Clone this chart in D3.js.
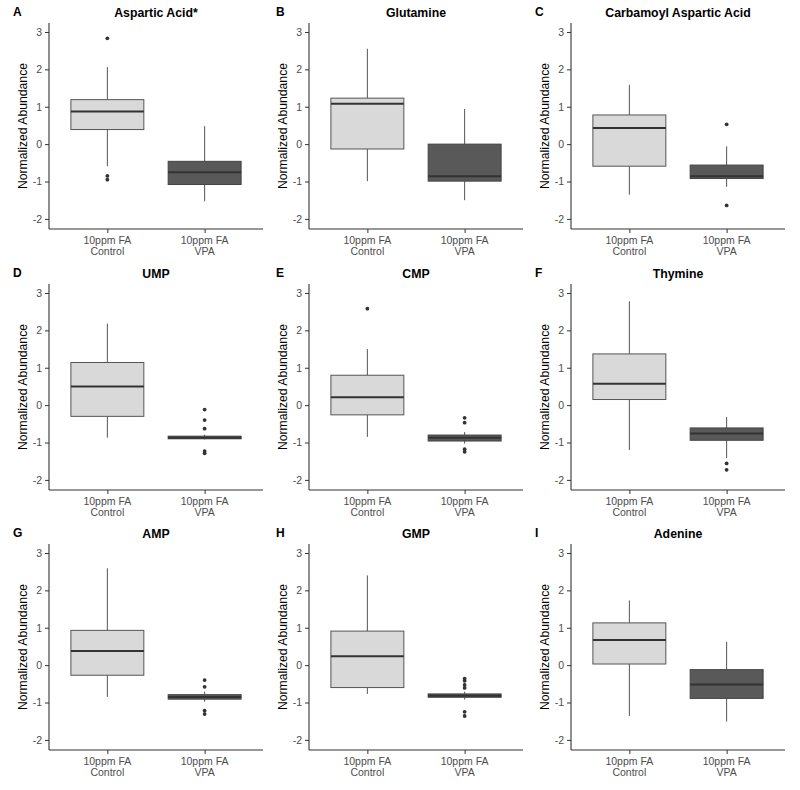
<!DOCTYPE html>
<html>
<head>
<meta charset="utf-8">
<script src="https://cdn.jsdelivr.net/npm/d3@7"></script>
<style>
  body { margin: 0; background: #fff; }
  svg { display: block; font-family: "Liberation Sans", Arial, sans-serif; }
</style>
</head>
<body>
<svg id="chart" width="800" height="790"></svg>
<script>
// ---- Data ----
const panelLetters = ["A", "B", "C", "D", "E", "F", "G", "H", "I"];
const metabolites = ["Aspartic Acid*", "Glutamine", "Carbamoyl Aspartic Acid", "UMP", "CMP", "Thymine", "AMP", "GMP", "Adenine"];
const groups = ["10ppm FA\nControl", "10ppm FA\nVPA"];
const yTicks = [-2, -1, 0, 1, 2, 3];

// [lower whisker, Q1, median, Q3, upper whisker]
const controlStats = [
  [-0.59, 0.39, 0.87, 1.19, 2.06],
  [-0.99, -0.13, 1.08, 1.23, 2.55],
  [-1.35, -0.59, 0.43, 0.78, 1.59],
  [-0.87, -0.30, 0.50, 1.14, 2.18],
  [-0.85, -0.26, 0.21, 0.80, 1.50],
  [-1.20, 0.15, 0.57, 1.37, 2.78],
  [-0.85, -0.27, 0.38, 0.93, 2.59],
  [-0.77, -0.60, 0.24, 0.91, 2.40],
  [-1.36, 0.03, 0.67, 1.13, 1.73]
];
const vpaStats = [
  [-1.53, -1.08, -0.75, -0.46, 0.48],
  [-1.50, -0.99, -0.86, 0.00, 0.94],
  [-1.14, -0.92, -0.86, -0.56, -0.06],
  [-0.92, -0.90, -0.87, -0.83, -0.79],
  [-1.03, -0.96, -0.87, -0.80, -0.72],
  [-1.42, -0.94, -0.76, -0.61, -0.32],
  [-0.98, -0.91, -0.85, -0.79, -0.71],
  [-0.92, -0.86, -0.82, -0.77, -0.71],
  [-1.51, -0.89, -0.52, -0.12, 0.62]
];
const controlOutliers = [
  [2.83, -0.85, -0.95],
  [],
  [],
  [],
  [2.58],
  [],
  [],
  [],
  []
];
const vpaOutliers = [
  [],
  [],
  [0.53, -1.64],
  [-0.12, -0.40, -0.63, -1.23, -1.29],
  [-0.34, -0.47, -1.18, -1.25],
  [-1.56, -1.73],
  [-0.40, -0.58, -1.22, -1.31],
  [-0.36, -0.42, -0.53, -0.61, -1.25, -1.36],
  []
];

// ---- Layout ----
const colAxisX = [49, 309, 571];
const colRightX = [263, 523, 785];
const colLetterX = [13, 276, 535];
const rowTop = [23, 284, 544];
const rowBottom = [229, 490, 750];
const fills = ["#d9d9d9", "#595959"];
const strokes = ["#555555", "#444444"];

const svg = d3.select("#chart");
svg.append("rect").attr("width", 800).attr("height", 790).attr("fill", "#fff");

metabolites.forEach((name, i) => {
  const c = i % 3, r = Math.floor(i / 3);
  const x0 = colAxisX[c], x1 = colRightX[c];
  const yT = rowTop[r], yB = rowBottom[r];

  const x = d3.scaleLinear().domain([0.4, 2.6]).range([x0, x1]);
  const y = d3.scaleLinear().domain([-2.27, 3.24]).range([yB, yT]);
  const g = svg.append("g");

  // Title and letter
  g.append("text").attr("x", (x0 + x1) / 2).attr("y", yT - 6)
    .attr("text-anchor", "middle").attr("font-size", 12.3).attr("font-weight", "bold")
    .attr("fill", "#000").text(name);
  g.append("text").attr("x", colLetterX[c]).attr("y", yT - 7)
    .attr("font-size", 12).attr("font-weight", "bold").attr("fill", "#000").text(panelLetters[i]);

  // Boxes
  const statsList = [controlStats[i], vpaStats[i]];
  const outList = [controlOutliers[i], vpaOutliers[i]];
  statsList.forEach((s, k) => {
    const cx = x(k + 1);
    const halfW = (x(1.375) - x(1));
    // whiskers
    g.append("line").attr("x1", cx).attr("x2", cx).attr("y1", y(s[3])).attr("y2", y(s[4]))
      .attr("stroke", "#555").attr("stroke-width", 1);
    g.append("line").attr("x1", cx).attr("x2", cx).attr("y1", y(s[0])).attr("y2", y(s[1]))
      .attr("stroke", "#555").attr("stroke-width", 1);
    // box
    g.append("rect").attr("x", cx - halfW).attr("width", 2 * halfW)
      .attr("y", y(s[3])).attr("height", Math.max(0.5, y(s[1]) - y(s[3])))
      .attr("fill", fills[k]).attr("stroke", strokes[k]).attr("stroke-width", 1);
    // median
    g.append("line").attr("x1", cx - halfW).attr("x2", cx + halfW)
      .attr("y1", y(s[2])).attr("y2", y(s[2]))
      .attr("stroke", "#333").attr("stroke-width", 2);
    // outliers
    outList[k].forEach(v => {
      g.append("circle").attr("cx", cx).attr("cy", y(v)).attr("r", 1.9).attr("fill", "#333");
    });
  });

  // Y axis
  const yAxis = g.append("g").attr("transform", `translate(${x0},0)`)
    .call(d3.axisLeft(y).tickValues(yTicks).tickSize(4).tickPadding(3).tickFormat(d => String(d)));
  yAxis.select(".domain").attr("d", `M0,${yT}V${yB}`).attr("stroke", "#333").attr("stroke-width", 1.1);
  yAxis.selectAll(".tick line").attr("stroke", "#333");
  yAxis.selectAll(".tick text").attr("fill", "#4d4d4d").attr("font-size", 10.5)
    .attr("font-family", "Liberation Sans, Arial, sans-serif");

  // X axis
  const xAxis = g.append("g").attr("transform", `translate(0,${yB})`)
    .call(d3.axisBottom(x).tickValues([1, 2]).tickSize(4).tickFormat(""));
  xAxis.select(".domain").attr("d", `M${x0},0H${x1}`).attr("stroke", "#333").attr("stroke-width", 1.1);
  xAxis.selectAll(".tick line").attr("stroke", "#333");
  groups.forEach((lab, k) => {
    const lines = lab.split("\n");
    const t = g.append("text").attr("x", x(k + 1)).attr("y", yB + 15)
      .attr("text-anchor", "middle").attr("font-size", 10.5).attr("fill", "#4d4d4d");
    lines.forEach((ln, j) => {
      t.append("tspan").attr("x", x(k + 1)).attr("dy", j === 0 ? 0 : 11).text(ln);
    });
  });

  // Y axis title
  g.append("text")
    .attr("transform", `translate(${x0 - 22},${(yT + yB) / 2}) rotate(-90)`)
    .attr("text-anchor", "middle").attr("font-size", 12.2).attr("fill", "#000")
    .text("Normalized Abundance");
});
</script>
</body>
</html>
